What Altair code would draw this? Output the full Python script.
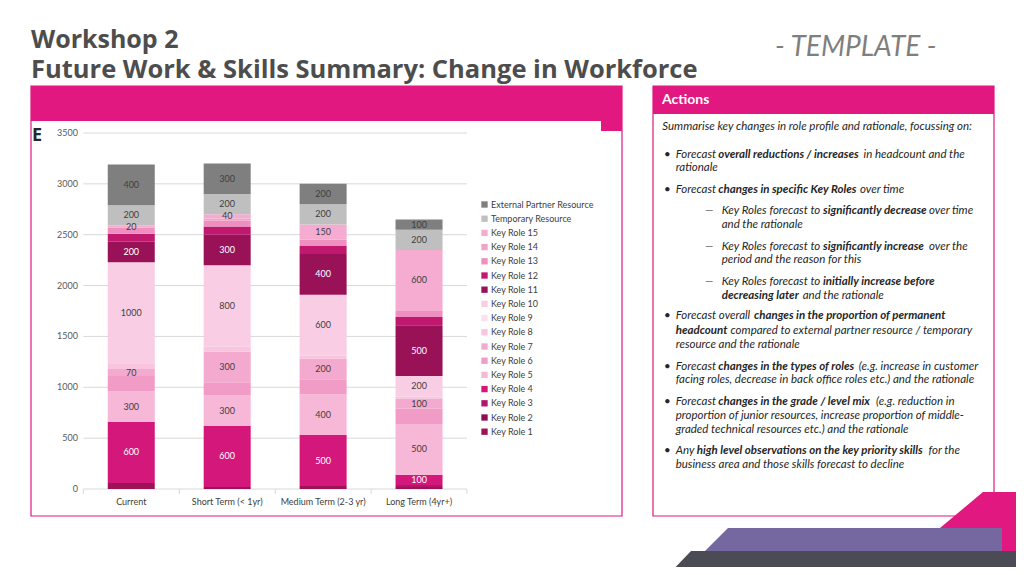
import pandas as pd
import altair as alt

categories = ["Current", "Short Term (< 1yr)", "Medium Term (2-3 yr)", "Long Term (4yr+)"]
series = ["Key Role %d" % i for i in range(1, 16)] + ["Temporary Resource", "External Partner Resource"]

# values per series, bottom (Key Role 1) to top (External Partner Resource)
current = [60, 0, 0, 600, 300, 150, 70, 50, 0, 1000, 200, 80, 60, 0, 20, 200, 400]
short_term = [20, 0, 0, 600, 300, 130, 300, 50, 0, 800, 300, 80, 60, 20, 40, 200, 300]
medium_term = [30, 0, 0, 500, 400, 150, 200, 30, 0, 600, 400, 80, 60, 0, 150, 200, 200]
long_term = [20, 0, 20, 100, 500, 150, 100, 20, 0, 200, 500, 80, 60, 0, 600, 200, 100]

labelled = ["Key Role 4", "Key Role 5", "Key Role 7", "Key Role 10", "Key Role 11",
            "Key Role 15", "Temporary Resource", "External Partner Resource"]
light_text = ["Key Role 1", "Key Role 2", "Key Role 3", "Key Role 4", "Key Role 11", "Key Role 12"]

colors = ["#9E1256", "#8C1150", "#B0166A", "#D4187B", "#F7B7D7", "#F09CC6", "#F4A9CE",
          "#F8C4DE", "#FBE0EE", "#F9CEE4", "#991258", "#C0186F", "#EE8FC0", "#F3A2C9",
          "#F5ACD0", "#BFBFBF", "#7F7F7F"]

y_ticks = [0, 500, 1000, 1500, 2000, 2500, 3000, 3500]

PINK = "#E0187F"
M = 8  # page margin, chart coords = page coords - 8


def P(v):
    return v - M


rows = []
for cat, vals in zip(categories, [current, short_term, medium_term, long_term]):
    base = 0
    for s, v in zip(series, vals):
        if v > 0:
            rows.append({"cat": cat, "series": s, "y0": base, "y1": base + v,
                         "mid": base + v / 2, "v": v,
                         "label": str(v) if s in labelled else "",
                         "tc": "#FFFFFF" if s in light_text else "#404040"})
        base += v
df = pd.DataFrame(rows)

xscale = alt.Scale(domain=categories, range=[P(83.3), P(467)], paddingInner=0.51, paddingOuter=0.255)
yscale = alt.Scale(domain=[0, 3500], range=[P(489), P(133)])

ticks_df = pd.DataFrame({"v": y_ticks})
cats_df = pd.DataFrame({"cat": categories})

grid = alt.Chart(ticks_df).mark_rule(color="#D9D9D9", strokeWidth=1).encode(
    y=alt.Y("v:Q", scale=yscale, axis=None),
    x=alt.value(P(83.3)), x2=alt.value(P(467)),
)
ylabels = alt.Chart(ticks_df).mark_text(align="right", baseline="middle", font="Lato",
                                        fontSize=9, color="#595959").encode(
    y=alt.Y("v:Q", scale=yscale, axis=None),
    x=alt.value(P(78)),
    text="v:Q",
)
bars = alt.Chart(df).mark_bar().encode(
    x=alt.X("cat:N", scale=xscale, axis=None),
    y=alt.Y("y0:Q", scale=yscale, axis=None),
    y2="y1:Q",
    color=alt.Color("series:N",
                    scale=alt.Scale(domain=series[::-1], range=colors[::-1]),
                    legend=alt.Legend(orient="none", legendX=P(480), legendY=P(200), title=None,
                                      symbolType="square", symbolSize=40, symbolStrokeWidth=0,
                                      labelFontSize=9, labelFont="Lato", labelColor="#404040",
                                      labelOffset=2, rowPadding=4.2, padding=0)),
)
seg_labels = alt.Chart(df).mark_text(font="Lato", fontSize=9, baseline="middle").encode(
    x=alt.X("cat:N", scale=xscale, axis=None),
    y=alt.Y("mid:Q", scale=yscale, axis=None),
    text="label:N",
    color=alt.Color("tc:N", scale=None),
)
xlabels = alt.Chart(cats_df).mark_text(font="Lato", fontSize=9, color="#404040",
                                       baseline="middle").encode(
    x=alt.X("cat:N", scale=xscale, axis=None),
    y=alt.value(P(502)),
    text="cat:N",
)
xticks_left = alt.Chart(cats_df).mark_rule(color="#D9D9D9", xOffset=-47.9).encode(
    x=alt.X("cat:N", scale=xscale, axis=None),
    y=alt.value(P(489)), y2=alt.value(P(494)),
)
xticks_right = alt.Chart(cats_df.tail(1)).mark_rule(color="#D9D9D9", xOffset=47.9).encode(
    x=alt.X("cat:N", scale=xscale, axis=None),
    y=alt.value(P(489)), y2=alt.value(P(494)),
)
plot = alt.layer(grid, ylabels, bars, seg_labels, xlabels, xticks_left, xticks_right)

one = alt.Data(values=[{"k": 0}])


def box(x1, y1, x2, y2, fill, stroke=None):
    kw = {"fill": fill}
    if stroke:
        kw.update(stroke=stroke, strokeWidth=1.2)
    return alt.Chart(one).mark_rect(**kw).encode(
        x=alt.value(P(x1)), x2=alt.value(P(x2)), y=alt.value(P(y1)), y2=alt.value(P(y2)))


def label(x, y, text, size, color, weight="normal", style="normal", font="Lato",
          align="left", baseline="alphabetic"):
    return alt.Chart(one).mark_text(text=text, fontSize=size, color=color, fontWeight=weight,
                                    fontStyle=style, font=font, align=align,
                                    baseline=baseline).encode(x=alt.value(P(x)), y=alt.value(P(y)))


def shape(pts, color):
    path = "M " + " L ".join("%g %g" % (P(a), P(b)) for a, b in pts) + " Z"
    return alt.Chart(one).mark_point(shape=path, size=4, filled=True, opacity=1,
                                     strokeWidth=0, color=color).encode(
        x=alt.value(0), y=alt.value(0))


decor = [
    box(31, 86, 622, 516, "#FFFFFF", PINK),
    box(31, 86, 622, 121, PINK),
    box(601, 121, 622, 131, PINK),
    box(45, 121, 601, 515, "#FFFFFF"),
    box(653, 86, 994, 516, "#FFFFFF", PINK),
    box(653, 86, 994, 114, PINK),
    shape([(940, 528), (983, 492), (1024, 492), (1024, 575), (940, 575)], PINK),
    shape([(705, 551), (728, 528), (1002, 528), (1002, 551)], "#75679F"),
    shape([(668, 575), (691, 551), (1024, 551), (1024, 575)], "#4B4B55"),
    label(32, 141, "E", 18, "#262626", weight="bold", font="Open Sans"),
]

titles = [
    label(31, 48, "Workshop 2", 25, "#4D4D4D", weight="bold", font="Open Sans"),
    label(31, 78, "Future Work & Skills Summary: Change in Workforce", 25.5, "#4D4D4D",
          weight="bold", font="Open Sans"),
    label(775, 56, "- TEMPLATE -", 28, "#7F7F7F", style="italic"),
    label(662, 100, "Actions", 14, "#FFFFFF", weight="bold", baseline="middle"),
]

# Actions panel text fragments: (x, y, text, bold)
frags = [
    (662.3, 126.7, "Summarise key changes in role profile and rationale, focussing on:", False),
    (664, 155, "\u2022", False), (675.7, 155, "Forecast", False),
    (718.3, 155, "overall reductions / increases", True), (863.5, 155, "in headcount and the", False),
    (675.7, 168.3, "rationale", False),
    (664, 190, "\u2022", False), (675.7, 190, "Forecast", False),
    (718.3, 190, "changes in specific Key Roles", True), (860, 190, "over time", False),
    (705, 211, "\u2014", False), (721.7, 211, "Key Roles forecast to", False),
    (823, 211, "significantly decrease", True), (929, 211, "over time", False),
    (721.7, 225, "and the rationale", False),
    (705, 246.7, "\u2014", False), (721.7, 246.7, "Key Roles forecast to", False),
    (823, 246.7, "significantly increase", True), (929, 246.7, "over the", False),
    (721.7, 260, "period and the reason for this", False),
    (705, 281.7, "\u2014", False), (721.7, 281.7, "Key Roles forecast to", False),
    (823, 281.7, "initially increase before", True),
    (721.7, 295.7, "decreasing later", True), (802.7, 295.7, "and the rationale", False),
    (664, 316, "\u2022", False), (675.7, 316, "Forecast overall", False),
    (754, 316, "changes in the proportion of permanent", True),
    (675.7, 331, "headcount", True),
    (730.5, 331, "compared to external partner resource / temporary", False),
    (675.7, 345, "resource and the rationale", False),
    (664, 366.7, "\u2022", False), (675.7, 366.7, "Forecast", False),
    (718.3, 366.7, "changes in the types of roles", True),
    (858.8, 366.7, "(e.g. increase in customer", False),
    (675.7, 380, "facing roles, decrease in back office roles etc.) and the rationale", False),
    (664, 401.7, "\u2022", False), (675.7, 401.7, "Forecast", False),
    (718.3, 401.7, "changes in the grade / level mix", True),
    (876, 401.7, "(e.g. reduction in", False),
    (675.7, 416, "proportion of junior resources, increase proportion of middle-", False),
    (675.7, 430, "graded technical resources etc.) and the rationale", False),
    (664, 451, "\u2022", False), (675.7, 451, "Any", False),
    (696.7, 451, "high level observations on the key priority skills", True),
    (928.5, 451, "for the", False),
    (675.7, 465, "business area and those skills forecast to decline", False),
]
frag_df = pd.DataFrame([{"x": P(a), "y": P(b), "t": t, "b": bo} for a, b, t, bo in frags])


def frag_layer(bold):
    return alt.Chart(frag_df[frag_df["b"] == bold]).mark_text(
        font="Lato", fontSize=11.5, fontStyle="italic", color="#262626",
        fontWeight="bold" if bold else "normal", align="left", baseline="middle").encode(
        x=alt.X("x:Q", scale=None, axis=None),
        y=alt.Y("y:Q", scale=None, axis=None),
        text="t:N",
    )


chart = alt.layer(*decor, plot, *titles, frag_layer(False), frag_layer(True)).resolve_scale(
    x="independent", y="independent"
).properties(
    width=1008, height=559, padding=0,
    autosize=alt.AutoSizeParams(type="none"),
).configure_view(stroke=None)

chart.save("out.html", embed_options={"renderer": "svg", "actions": False})
